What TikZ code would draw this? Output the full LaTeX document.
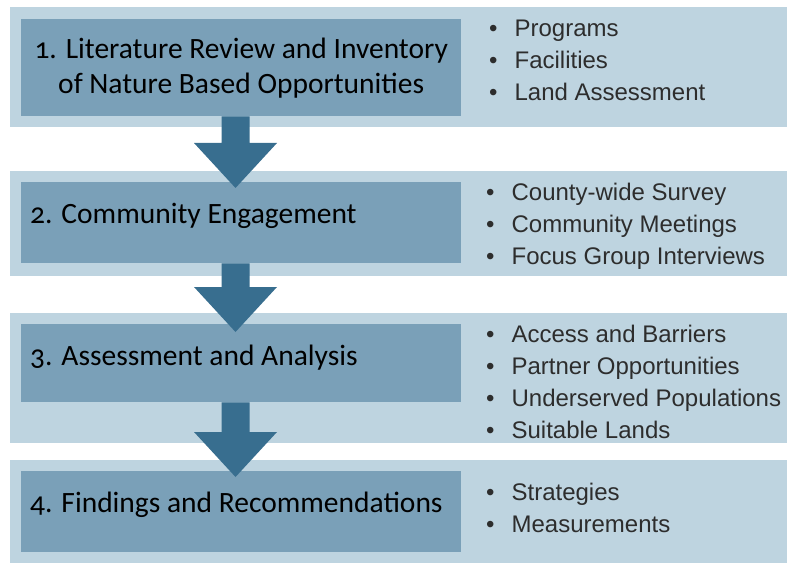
\documentclass[tikz,border=0pt]{standalone}
\usepackage{fontspec}
\setmainfont{Carlito}[Numbers=OldStyle]
\newfontfamily\listfont{Liberation Sans}
\usepackage{tikz}
\usetikzlibrary{calc}
\definecolor{StepBackColor}{RGB}{190,212,224}
\definecolor{StepBoxColor}{RGB}{122,160,184}
\definecolor{StepArrowColor}{RGB}{56,110,143}
\definecolor{StepTextColor}{RGB}{45,45,45}

\begin{document}
\begin{tikzpicture}[x=1pt,y=-1pt,
   back/.style n args={2}{rectangle,fill=StepBackColor,inner sep=0pt,anchor=north west,minimum width=#1pt,minimum height=#2pt},
   stepbox/.style n args={2}{rectangle,fill=StepBoxColor,inner sep=0pt,anchor=north west,minimum width=#1pt,minimum height=#2pt},
   ttl/.style={font=\fontsize{29.5}{35}\selectfont,inner sep=0pt},
   item/.style={font=\listfont\fontsize{24}{28}\selectfont,text=StepTextColor,inner sep=0pt,anchor=base west},
   arw/.style={fill=StepArrowColor}]
\useasboundingbox (0,0) rectangle (787,564);
% background bands
\node[back={777}{120}] (o1) at (10,7) {};
\node[back={777}{105}] (o2) at (10,171) {};
\node[back={777}{130}] (o3) at (10,313) {};
\node[back={777}{103}] (o4) at (10,460) {};
% step boxes
\node[stepbox={440}{97},ttl,align=center] (s1) at (21,19) {1. Literature Review and Inventory\\of Nature Based Opportunities};
\node[stepbox={440}{81}] (s2) at (21,182) {};
\node[stepbox={440}{78}] (s3) at (21,324) {};
\node[stepbox={440}{81}] (s4) at (21,471) {};
\node[ttl,anchor=base west] (l2) at ($(s2.north west)+(9,41)$) {2. Community Engagement};
\node[ttl,anchor=base west] (l3) at ($(s3.north west)+(9,41)$) {3. Assessment and Analysis};
\node[ttl,anchor=base west] (l4) at ($(s4.north west)+(9,41)$) {4. Findings and Recommendations};
% bullet lists
\foreach \t [count=\i] in {Programs,Facilities,Land Assessment} {
   \node[item] (p1-\i) at ($(o1.north west)+(479,30+32*\i-32)$) {\textbullet\hspace{17pt}\t};
}
\foreach \t [count=\i] in {County-wide Survey,Community Meetings,Focus Group Interviews} {
   \node[item] (p2-\i) at ($(o2.north west)+(476,30+32*\i-32)$) {\textbullet\hspace{17pt}\t};
}
\foreach \t [count=\i] in {Access and Barriers,Partner Opportunities,Underserved Populations,Suitable Lands} {
   \node[item] (p3-\i) at ($(o3.north west)+(476,29+32*\i-32)$) {\textbullet\hspace{17pt}\t};
}
\foreach \t [count=\i] in {Strategies,Measurements} {
   \node[item] (p4-\i) at ($(o4.north west)+(476,40+32*\i-32)$) {\textbullet\hspace{17pt}\t};
}
% arrows
\coordinate (t1) at (235.5,188);
\coordinate (t2) at (235.5,332);
\coordinate (t3) at (235.5,477);
\foreach \a/\b in {s1/t1,s2/t2,s3/t3} {
   \fill[arw] ($(\a.south -| \b)+(-14,0)$) -- ($(\b)+(-14,-45)$) -- ($(\b)+(-41.5,-45)$) -- (\b)
      -- ($(\b)+(41.5,-45)$) -- ($(\b)+(14,-45)$) -- ($(\a.south -| \b)+(14,0)$) -- cycle;
}
\end{tikzpicture}
\end{document}
